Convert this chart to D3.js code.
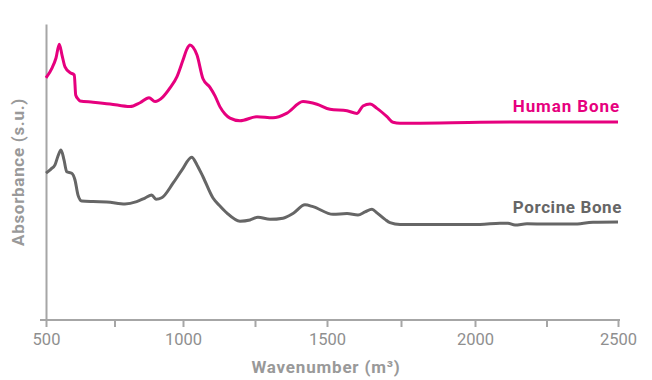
<!DOCTYPE html>
<html>
<head>
<meta charset="utf-8">
<script src="https://cdn.jsdelivr.net/npm/d3@7/dist/d3.min.js"></script>
<style>
  html, body { margin: 0; padding: 0; background: #fff; }
  svg { display: block; font-family: Roboto, "Noto Sans", sans-serif; }
</style>
</head>
<body>
<svg id="chart" width="652" height="380"></svg>
<script>
// ---- Data (wavenumber, absorbance in s.u.) ----
const humanWave = [500,521.9,536.5,548.5,558.4,569.4,587.6,603.3,608.4,616.8,624.1,671.6,733.6,806.6,843.1,876.0,897.9,927.0,952.6,978.1,1000,1013.9,1024.3,1034.7,1048.6,1069.4,1093.7,1111.1,1128.5,1145.8,1163.2,1197.9,1256.9,1312.5,1361.1,1416.7,1465.3,1510.1,1567.6,1601.4,1621.6,1645.3,1668.9,1702.7,1723.0,1746.6,1790.5,2017.5,2251.8,2500];
const humanAbs  = [0.818,0.851,0.885,0.932,0.895,0.855,0.836,0.828,0.760,0.747,0.740,0.736,0.730,0.721,0.734,0.751,0.738,0.754,0.784,0.822,0.878,0.916,0.929,0.922,0.895,0.815,0.786,0.757,0.720,0.696,0.682,0.673,0.687,0.683,0.699,0.738,0.729,0.712,0.707,0.698,0.723,0.730,0.715,0.687,0.668,0.665,0.665,0.668,0.669,0.669];

const porcineWave = [500,518.2,532.8,543.8,554.7,565.7,575.5,593.8,605.8,616.8,630.3,671.6,721.6,788.3,831.0,861.3,885.8,901.5,922.3,963.5,996.4,1030.2,1048.6,1069.4,1104.2,1128.5,1152.8,1197.9,1232.6,1260.4,1302.1,1347.2,1381.9,1423.6,1451.4,1520.3,1567.6,1604.7,1628.4,1652.0,1668.9,1695.9,1712.8,1746.6,1905.4,2017.5,2087.4,2115.4,2139.9,2181.8,2251.8,2342.7,2412.6,2500];
const porcineAbs  = [0.496,0.510,0.524,0.554,0.574,0.541,0.501,0.496,0.473,0.422,0.402,0.400,0.399,0.392,0.400,0.412,0.422,0.408,0.413,0.462,0.507,0.550,0.524,0.484,0.412,0.385,0.361,0.334,0.338,0.347,0.340,0.344,0.360,0.389,0.383,0.357,0.360,0.355,0.365,0.374,0.362,0.340,0.329,0.323,0.323,0.323,0.327,0.327,0.321,0.325,0.324,0.324,0.330,0.331];

const seriesNames = ["Human Bone", "Porcine Bone"];
const xTickValues = [500,750,1000,1250,1500,1750,2000,2250,2500];
const xTickLabels = ["500","","1000","","1500","","2000","","2500"];
const xTitle = "Wavenumber (m\u00B3)";
const yTitle = "Absorbance (s.u.)";

// ---- Layout ----
const svg = d3.select("#chart");
const axisColor = "#a6a6a6";
const labelColor = "#999999";

const x = d3.scaleLinear()
  .domain([500, 1000, 1500, 2000, 2500])
  .range([46, 183, 327, 475, 618]);
const y = d3.scaleLinear().domain([0, 1]).range([320, 24]);

// X axis
const xAxis = svg.append("g")
  .attr("transform", `translate(0,${y(0)})`)
  .call(d3.axisBottom(x)
    .tickValues(xTickValues)
    .tickFormat((d, i) => xTickLabels[i])
    .tickSize(7)
    .tickSizeOuter(0)
    .tickPadding(6));
xAxis.select(".domain").attr("stroke", axisColor).attr("stroke-width", 2)
  .attr("d", `M${x(500) - 6},0H${x(2500) + 2}`);
xAxis.selectAll(".tick line").attr("stroke", axisColor).attr("stroke-width", 2);
xAxis.selectAll(".tick text")
  .attr("fill", "#8f8f8f")
  .style("font-family", "Roboto, sans-serif")
  .style("font-size", "16.5px");

// Y axis
const yAxis = svg.append("g")
  .attr("transform", `translate(${x(500)},0)`)
  .call(d3.axisLeft(y).tickValues([]).tickSizeOuter(0));
yAxis.select(".domain").attr("stroke", axisColor).attr("stroke-width", 2);

// Lines
const line = d3.line()
  .x(d => x(d[0]))
  .y(d => y(d[1]))
  .curve(d3.curveMonotoneX);

const humanData = humanWave.map((w, i) => [w, humanAbs[i]]);
const porcineData = porcineWave.map((w, i) => [w, porcineAbs[i]]);

svg.append("path")
  .datum(porcineData)
  .attr("fill", "none")
  .attr("stroke", "#666666")
  .attr("stroke-width", 3)
  .attr("stroke-linejoin", "round")
  .attr("d", line);

svg.append("path")
  .datum(humanData)
  .attr("fill", "none")
  .attr("stroke", "#e6007e")
  .attr("stroke-width", 3)
  .attr("stroke-linejoin", "round")
  .attr("d", line);

// Series labels
svg.append("text")
  .attr("x", 620).attr("y", y(0.703))
  .attr("text-anchor", "end")
  .attr("fill", "#e6007e")
  .style("font-weight", "700")
  .style("font-size", "17px")
  .style("letter-spacing", "0.9px")
  .text(seriesNames[0]);

svg.append("text")
  .attr("x", 622).attr("y", y(0.362))
  .attr("text-anchor", "end")
  .attr("fill", "#666666")
  .style("font-weight", "700")
  .style("font-size", "17px")
  .style("letter-spacing", "0.6px")
  .text(seriesNames[1]);

// Axis titles
svg.append("text")
  .attr("x", 326).attr("y", 373)
  .attr("text-anchor", "middle")
  .attr("fill", labelColor)
  .style("font-weight", "700")
  .style("font-size", "17px")
  .style("letter-spacing", "0.8px")
  .text(xTitle);

svg.append("text")
  .attr("transform", "translate(24,172) rotate(-90)")
  .attr("text-anchor", "middle")
  .attr("fill", labelColor)
  .style("font-weight", "700")
  .style("font-size", "17px")
  .style("letter-spacing", "0.7px")
  .text(yTitle);
</script>
</body>
</html>
